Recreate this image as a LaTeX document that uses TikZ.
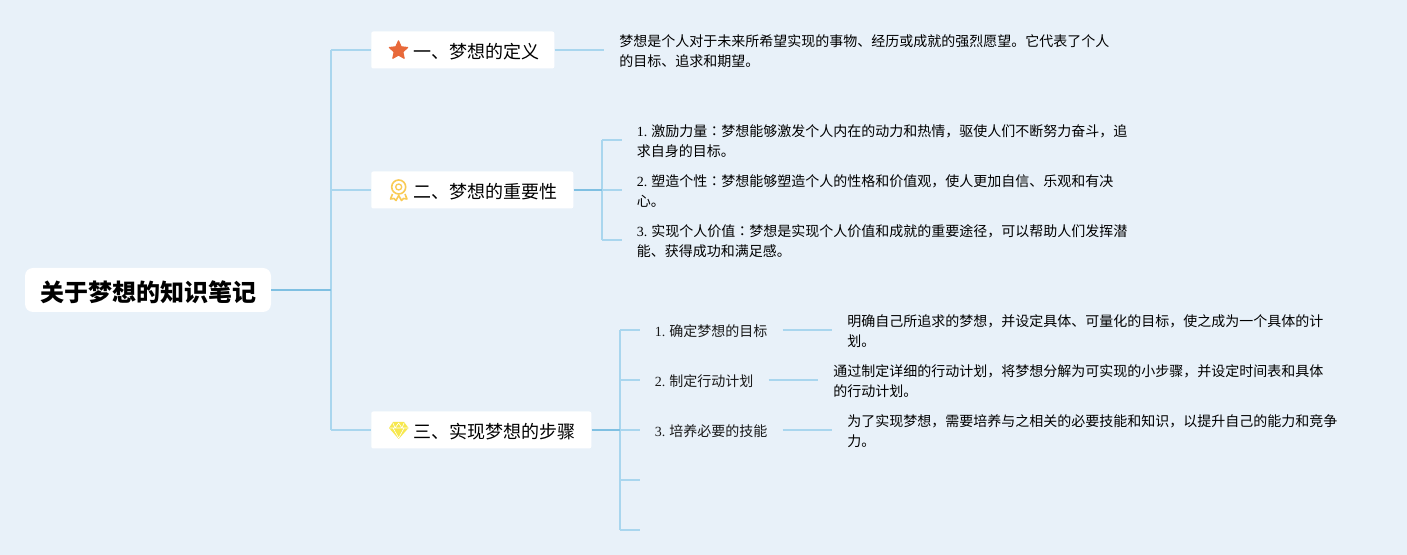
\documentclass[tikz,border=0pt]{standalone}
\usepackage{fontspec}
\setmainfont{Noto Sans CJK SC}
\newfontfamily\numfont{Liberation Serif}
\newfontfamily\tcfont{Noto Sans CJK TC}
\usetikzlibrary{shapes.geometric}
\definecolor{bgc}{HTML}{E8F1F9}
\definecolor{linea}{HTML}{A9D6EE}
\definecolor{lineb}{HTML}{7FC0E2}
\definecolor{starc}{HTML}{E8693A}
\definecolor{medalc}{HTML}{F9CB55}
\definecolor{gemc}{HTML}{F7E84E}
\tikzset{
  rootbox/.style={fill=white,rounded corners=6pt,inner sep=0pt,minimum width=184.5pt,minimum height=33pt,font=\fontsize{18}{22}\selectfont\bfseries,text=black},
  topicbox/.style={fill=white,rounded corners=1.5pt,inner sep=0pt,minimum height=27.75pt,anchor=west},
  topictext/.style={anchor=west,inner sep=0pt,font=\fontsize{13.5}{16}\selectfont,text=black},
  para/.style={anchor=west,align=left,inner xsep=11.25pt,inner ysep=0pt,font=\fontsize{10.5}{15}\selectfont,text=black},
  steplabel/.style={anchor=west,inner xsep=11.25pt,inner ysep=0pt,font=\fontsize{10.5}{15}\selectfont,text=black!90},
  thin line/.style={draw=linea,line width=1.15pt},
  thick line/.style={draw=lineb,line width=1.15pt},
}
\newcommand{\nm}[1]{{\numfont #1}}
\newcommand{\cln}{{\tcfont ：}}
\begin{document}
\begin{tikzpicture}[x=0.75pt,y=-0.75pt]
\useasboundingbox[fill=bgc] (0,0) rectangle (1407,555);
% coordinates
\coordinate (spine) at (331,290);
\coordinate (spA) at (331,50);
\coordinate (spB) at (331,190);
\coordinate (spC) at (331,430);
\coordinate (brB) at (602,190);
\coordinate (brB1) at (602,140);
\coordinate (brB3) at (602,240);
\coordinate (brC) at (620,430);
\coordinate (brC1) at (620,330);
\coordinate (brC2) at (620,380);
\coordinate (brC4) at (620,480);
\coordinate (brC5) at (620,530);
\coordinate (endC4) at (640,480);
\coordinate (endC5) at (640,530);
% nodes
\node[rootbox] (root) at (148,290) {\hspace*{1pt}\raisebox{-8.3pt}[0pt][0pt]{关于梦想的知识笔记}};
\node[topicbox,minimum width=137.25pt] (a) at (371,50) {};
\node[topicbox,minimum width=151.5pt] (b) at (371,190) {};
\node[topicbox,minimum width=165pt] (c) at (371,430) {};
\node[topictext] (at) at (413,51.5) {一、梦想的定义};
\node[topictext] (bt) at (413,191.5) {二、梦想的重要性};
\node[topictext] (ct) at (413,431.5) {三、实现梦想的步骤};
% icons
\node[star,star points=5,star point ratio=2.1,fill=starc,draw=starc,line join=round,line width=0.8pt,inner sep=0pt,minimum size=14.5pt] (ia) at (398.5,50.5) {};
\node[circle,draw=medalc,line width=1.2pt,inner sep=0pt,minimum size=10.5pt] (ib) at (398.7,187) {};
\node[circle,draw=medalc,line width=1pt,inner sep=0pt,minimum size=4.5pt] (ibb) at (398.7,187) {};
\draw[medalc,line width=1.2pt,line join=round] (392.5,194) -- (390.5,199) -- (394,198.5) -- (396,200.5) -- (398.7,195.5) -- (401.5,200.5) -- (403.5,198.5) -- (407,199) -- (405,194);
\fill[gemc] (393,422) -- (404,422) -- (408.5,428) -- (398.7,439) -- (389,428) -- cycle;
\draw[white,line width=0.45pt,line join=round] (389.5,428) -- (408,428) (393,428) -- (398.7,438) -- (404,428) (393,423) -- (395,428) -- (398.7,423) -- (402,428) -- (404,423);
% text
\node[para] (ta) at (604,51) {梦想是个人对于未来所希望实现的事物、经历或成就的强烈愿望。它代表了个人\\的目标、追求和期望。};
\node[para] (tb1) at (621.5,141.5) {\nm{1.} 激励力量\cln 梦想能够激发个人内在的动力和热情，驱使人们不断努力奋斗，追\\求自身的目标。};
\node[para] (tb2) at (621.5,191.5) {\nm{2.} 塑造个性\cln 梦想能够塑造个人的性格和价值观，使人更加自信、乐观和有决\\心。};
\node[para] (tb3) at (621.5,241.5) {\nm{3.} 实现个人价值\cln 梦想是实现个人价值和成就的重要途径，可以帮助人们发挥潜\\能、获得成功和满足感。};
\node[steplabel] (l1) at (639.5,331) {\nm{1.} 确定梦想的目标};
\node[steplabel] (l2) at (639.5,381) {\nm{2.} 制定行动计划};
\node[steplabel] (l3) at (639.5,431) {\nm{3.} 培养必要的技能};
\node[para] (s1) at (832,331.5) {明确自己所追求的梦想，并设定具体、可量化的目标，使之成为一个具体的计\\划。};
\node[para] (s2) at (818,381.5) {通过制定详细的行动计划，将梦想分解为可实现的小步骤，并设定时间表和具体\\的行动计划。};
\node[para] (s3) at (832,431.5) {为了实现梦想，需要培养与之相关的必要技能和知识，以提升自己的能力和竞争\\力。};
% connectors
\draw[thin line] (spA) -- (spC);
\draw[thin line] (spA) -- (a.west);
\draw[thin line] (spB) -- (b.west);
\draw[thin line] (spC) -- (c.west);
\draw[thick line] (root.east) -- (spine);
\draw[thin line] (a.east) -- (a.east -| ta.west);
\draw[thin line] (brB1) -- (brB3);
\draw[thin line] (brB1) -- (brB1 -| tb1.west);
\draw[thin line] (brB) -- (brB -| tb2.west);
\draw[thin line] (brB3) -- (brB3 -| tb3.west);
\draw[thick line] (b.east) -- (brB);
\draw[thin line] (brC1) -- (brC5);
\draw[thin line] (brC1) -- (brC1 -| l1.west);
\draw[thin line] (brC2) -- (brC2 -| l2.west);
\draw[thin line] (brC) -- (brC -| l3.west);
\draw[thin line] (brC4) -- (endC4);
\draw[thin line] (brC5) -- (endC5);
\draw[thick line] (c.east) -- (brC);
\draw[thin line] (brC1 -| l1.east) -- (brC1 -| s1.west);
\draw[thin line] (brC2 -| l2.east) -- (brC2 -| s2.west);
\draw[thin line] (brC -| l3.east) -- (brC -| s3.west);
\end{tikzpicture}
\end{document}
